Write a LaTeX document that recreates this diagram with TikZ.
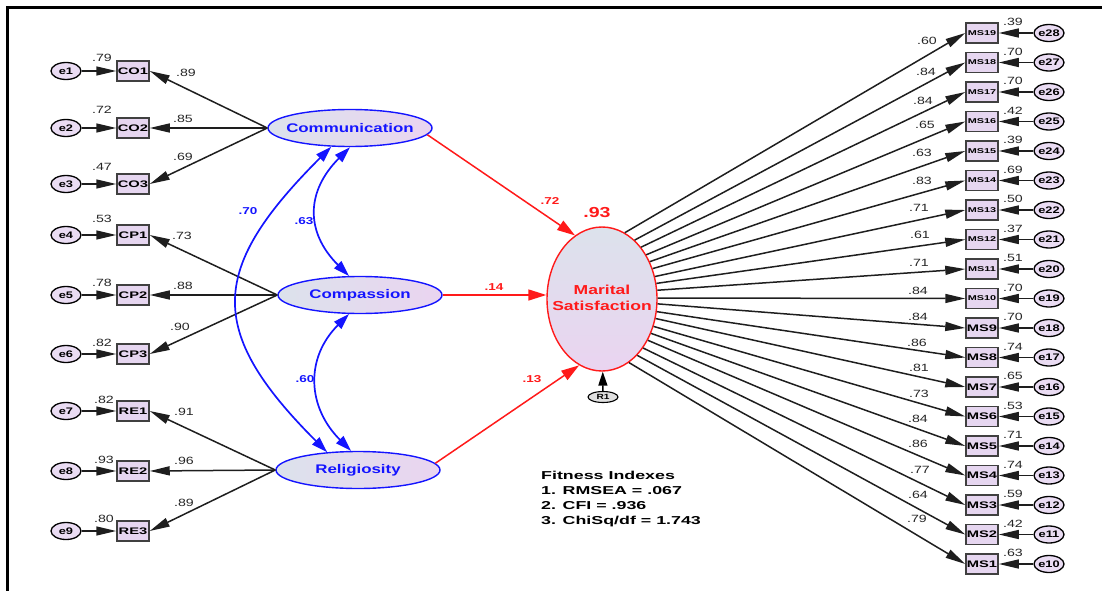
\documentclass[tikz,border=0pt]{standalone}
\usepackage{fontspec}
\setmainfont{Liberation Sans}
\newfontfamily\fa{Liberation Sans}[FakeStretch=1.35]
\newfontfamily\fb{Liberation Sans}[FakeStretch=1.55]
\usetikzlibrary{arrows.meta,shapes.geometric}
\newcommand{\zb}[1]{\makebox[0pt]{#1}}
\definecolor{ablue}{HTML}{1414FF}
\definecolor{ared}{HTML}{FF1A1A}
\definecolor{latL}{HTML}{DCE2EC}
\definecolor{latR}{HTML}{EAD4F0}
\definecolor{boxfill}{HTML}{E6D6F0}
\definecolor{errfill}{HTML}{EADCF3}
\definecolor{lnk}{HTML}{1E1E1E}
\begin{document}
\begin{tikzpicture}[x=1pt,y=-1pt,
  obs/.style={draw=black!75, line width=1.5pt, fill=boxfill, minimum width=32pt, minimum height=20pt, inner sep=0pt, font=\fb\bfseries\fontsize{9.5}{9.5}\selectfont},
  err/.style={ellipse, draw=black, line width=1.3pt, fill=errfill, minimum width=30pt, minimum height=17pt, inner sep=0pt, font=\fa\bfseries\fontsize{9.5}{9.5}\selectfont},
  lat/.style={ellipse, draw=ablue, line width=1.4pt, left color=latL, right color=latR, minimum width=164pt, minimum height=37pt, inner sep=0pt, text=ablue, font=\fa\bfseries\fontsize{12.5}{12.5}\selectfont},
  val/.style={inner sep=0pt, text=black!85, font=\fa\fontsize{10.5}{10.5}\selectfont},
  rval/.style={inner sep=0pt, text=ared, font=\fa\bfseries\fontsize{10}{10}\selectfont},
  bval/.style={inner sep=0pt, text=ablue, font=\fa\bfseries\fontsize{10}{10}\selectfont},
  ptharr/.style={draw=lnk, line width=1.5pt, -{Triangle[length=20pt,width=9pt]}},
  rpath/.style={draw=ared, line width=1.5pt, -{Triangle[length=18pt,width=11pt]}},
  cov/.style={draw=ablue, line width=1.7pt, {Triangle[length=16pt,width=10pt]}-{Triangle[length=16pt,width=10pt]}}
]
\useasboundingbox (0,0) rectangle (1102,591);
\draw[line width=3pt] (1102,8) -- (7,8) -- (7,591);

% latent variables
\node[lat] (comm) at (350,128) {\zb{Communication}};
\node[lat] (comp) at (360,295) {\zb{Compassion}};
\node[lat] (rel) at (358,470) {\zb{Religiosity}};
\node[ellipse, draw=ared, line width=1.4pt, top color=latL, bottom color=latR, minimum width=110pt, minimum height=144pt, inner sep=0pt, text=ared, font=\fa\bfseries\fontsize{13}{16}\selectfont] (ms) at (602,299) {\zb{\begin{tabular}{@{}c@{}}Marital\\Satisfaction\end{tabular}}};
\node[rval, font=\fa\bfseries\fontsize{14.5}{14.5}\selectfont] (r2) at (597,213) {.93};
\node[ellipse, draw=black, line width=1.1pt, fill=black!12, minimum width=30pt, minimum height=11pt, inner sep=0pt, font=\fa\bfseries\fontsize{7.5}{7.5}\selectfont] (r1) at (603,397) {\zb{R1}};
\draw[draw=black, line width=1.5pt, -{Triangle[length=14pt,width=9pt]}] (r1) -- (ms);

% left indicators
\foreach \i/\nm/\y/\ev/\evx/\evy/\lv/\lx/\ly/\lat in {
1/CO1/71/.79/102/58/.89/186/73/comm,
2/CO2/128/.72/102/110/.85/183/119/comm,
3/CO3/184/.47/102/167/.69/183/157/comm,
4/CP1/235/.53/102/219/.73/182/236/comp,
5/CP2/295/.78/102/283/.88/183/286/comp,
6/CP3/354/.82/102/343/.90/180/327/comp,
7/RE1/411/.82/104/400/.91/184/412/rel,
8/RE2/471/.93/104/460/.96/184/461/rel,
9/RE3/531/.80/104/519/.89/184/503/rel}
{
  \node[obs] (\nm) at (133,\y) {\nm};
  \node[err] (e\i) at (66,\y) {\zb{e\i}};
  \draw[ptharr] (e\i) -- (\nm);
  \draw[ptharr] (\lat.west) -- (\nm.east);
  \node[val] (ev\i) at (\evx,\evy) {\ev};
  \node[val] (lv\i) at (\lx,\ly) {\lv};
}

% right indicators
\foreach \k/\ang/\lv/\lx/\ly/\ev in {
19/71.6/.60/927/41/.39,
18/61.7/.84/926/72/.70,
17/53.4/.84/923/101/.70,
16/45.8/.65/925/125/.42,
15/38.4/.63/922/153/.39,
14/31.1/.83/922/181/.69,
13/23.8/.71/919/208/.50,
12/16.4/.61/920/235/.37,
11/9.0/.71/919/263/.51,
10/1.5/.84/918/291/.70,
9/-5.9/.84/918/317/.70,
8/-13.4/.86/917/343/.74,
7/-20.8/.81/919/368/.65,
6/-28.1/.73/919/394/.53,
5/-35.4/.84/918/419/.71,
4/-42.8/.86/918/444/.74,
3/-50.3/.77/920/470/.59,
2/-58.2/.64/918/495/.42,
1/-67.2/.79/917/519/.63}
{
  \pgfmathsetmacro\yy{33+(19-\k)*29.5}
  \pgfmathtruncatemacro\ei{\k+9}
  \node[obs] (MS\k) at (982,\yy) {\ifnum\k>9 \fontsize{7}{7}\selectfont\fi MS\k};
  \node[err] (e\ei) at (1049,\yy) {\zb{e\ei}};
  \draw[ptharr] (e\ei) -- (MS\k);
  \draw[ptharr] (ms.\ang) -- (MS\k.west);
  \node[val] (ml\k) at (\lx,\ly) {\lv};
  \node[val] (me\k) at (1013,\yy-11) {\ev};
}

% structural paths
\draw[rpath] (comm.-5) -- (ms.113);
\draw[rpath] (comp.east) -- (comp.east -| ms.west);
\draw[rpath] (rel.5) -- (ms.251);
\node[rval] (p1) at (550,201) {.72};
\node[rval] (p2) at (494,287) {.14};
\node[rval] (p3) at (532,379) {.13};

% covariances
\draw[cov] (comm.225) .. controls +(-122,122) and +(-122,-122) .. (rel.150);
\draw[cov] (comm.south) .. controls +(-44,44) and +(-44,-44) .. (comp.120);
\draw[cov] (comp.240) .. controls +(-44,44) and +(-44,-44) .. (rel.110);
\node[bval] (c1) at (248,211) {.70};
\node[bval] (c2) at (304,221) {.63};
\node[bval] (c3) at (305,379) {.60};

% fit indices
\node[font=\fb\bfseries\fontsize{11.5}{15}\selectfont, align=left, anchor=north west, inner sep=0pt] (fit) at (541,471) {Fitness Indexes\\1. RMSEA = .067\\2. CFI = .936\\3. ChiSq/df = 1.743};
\end{tikzpicture}
\end{document}
